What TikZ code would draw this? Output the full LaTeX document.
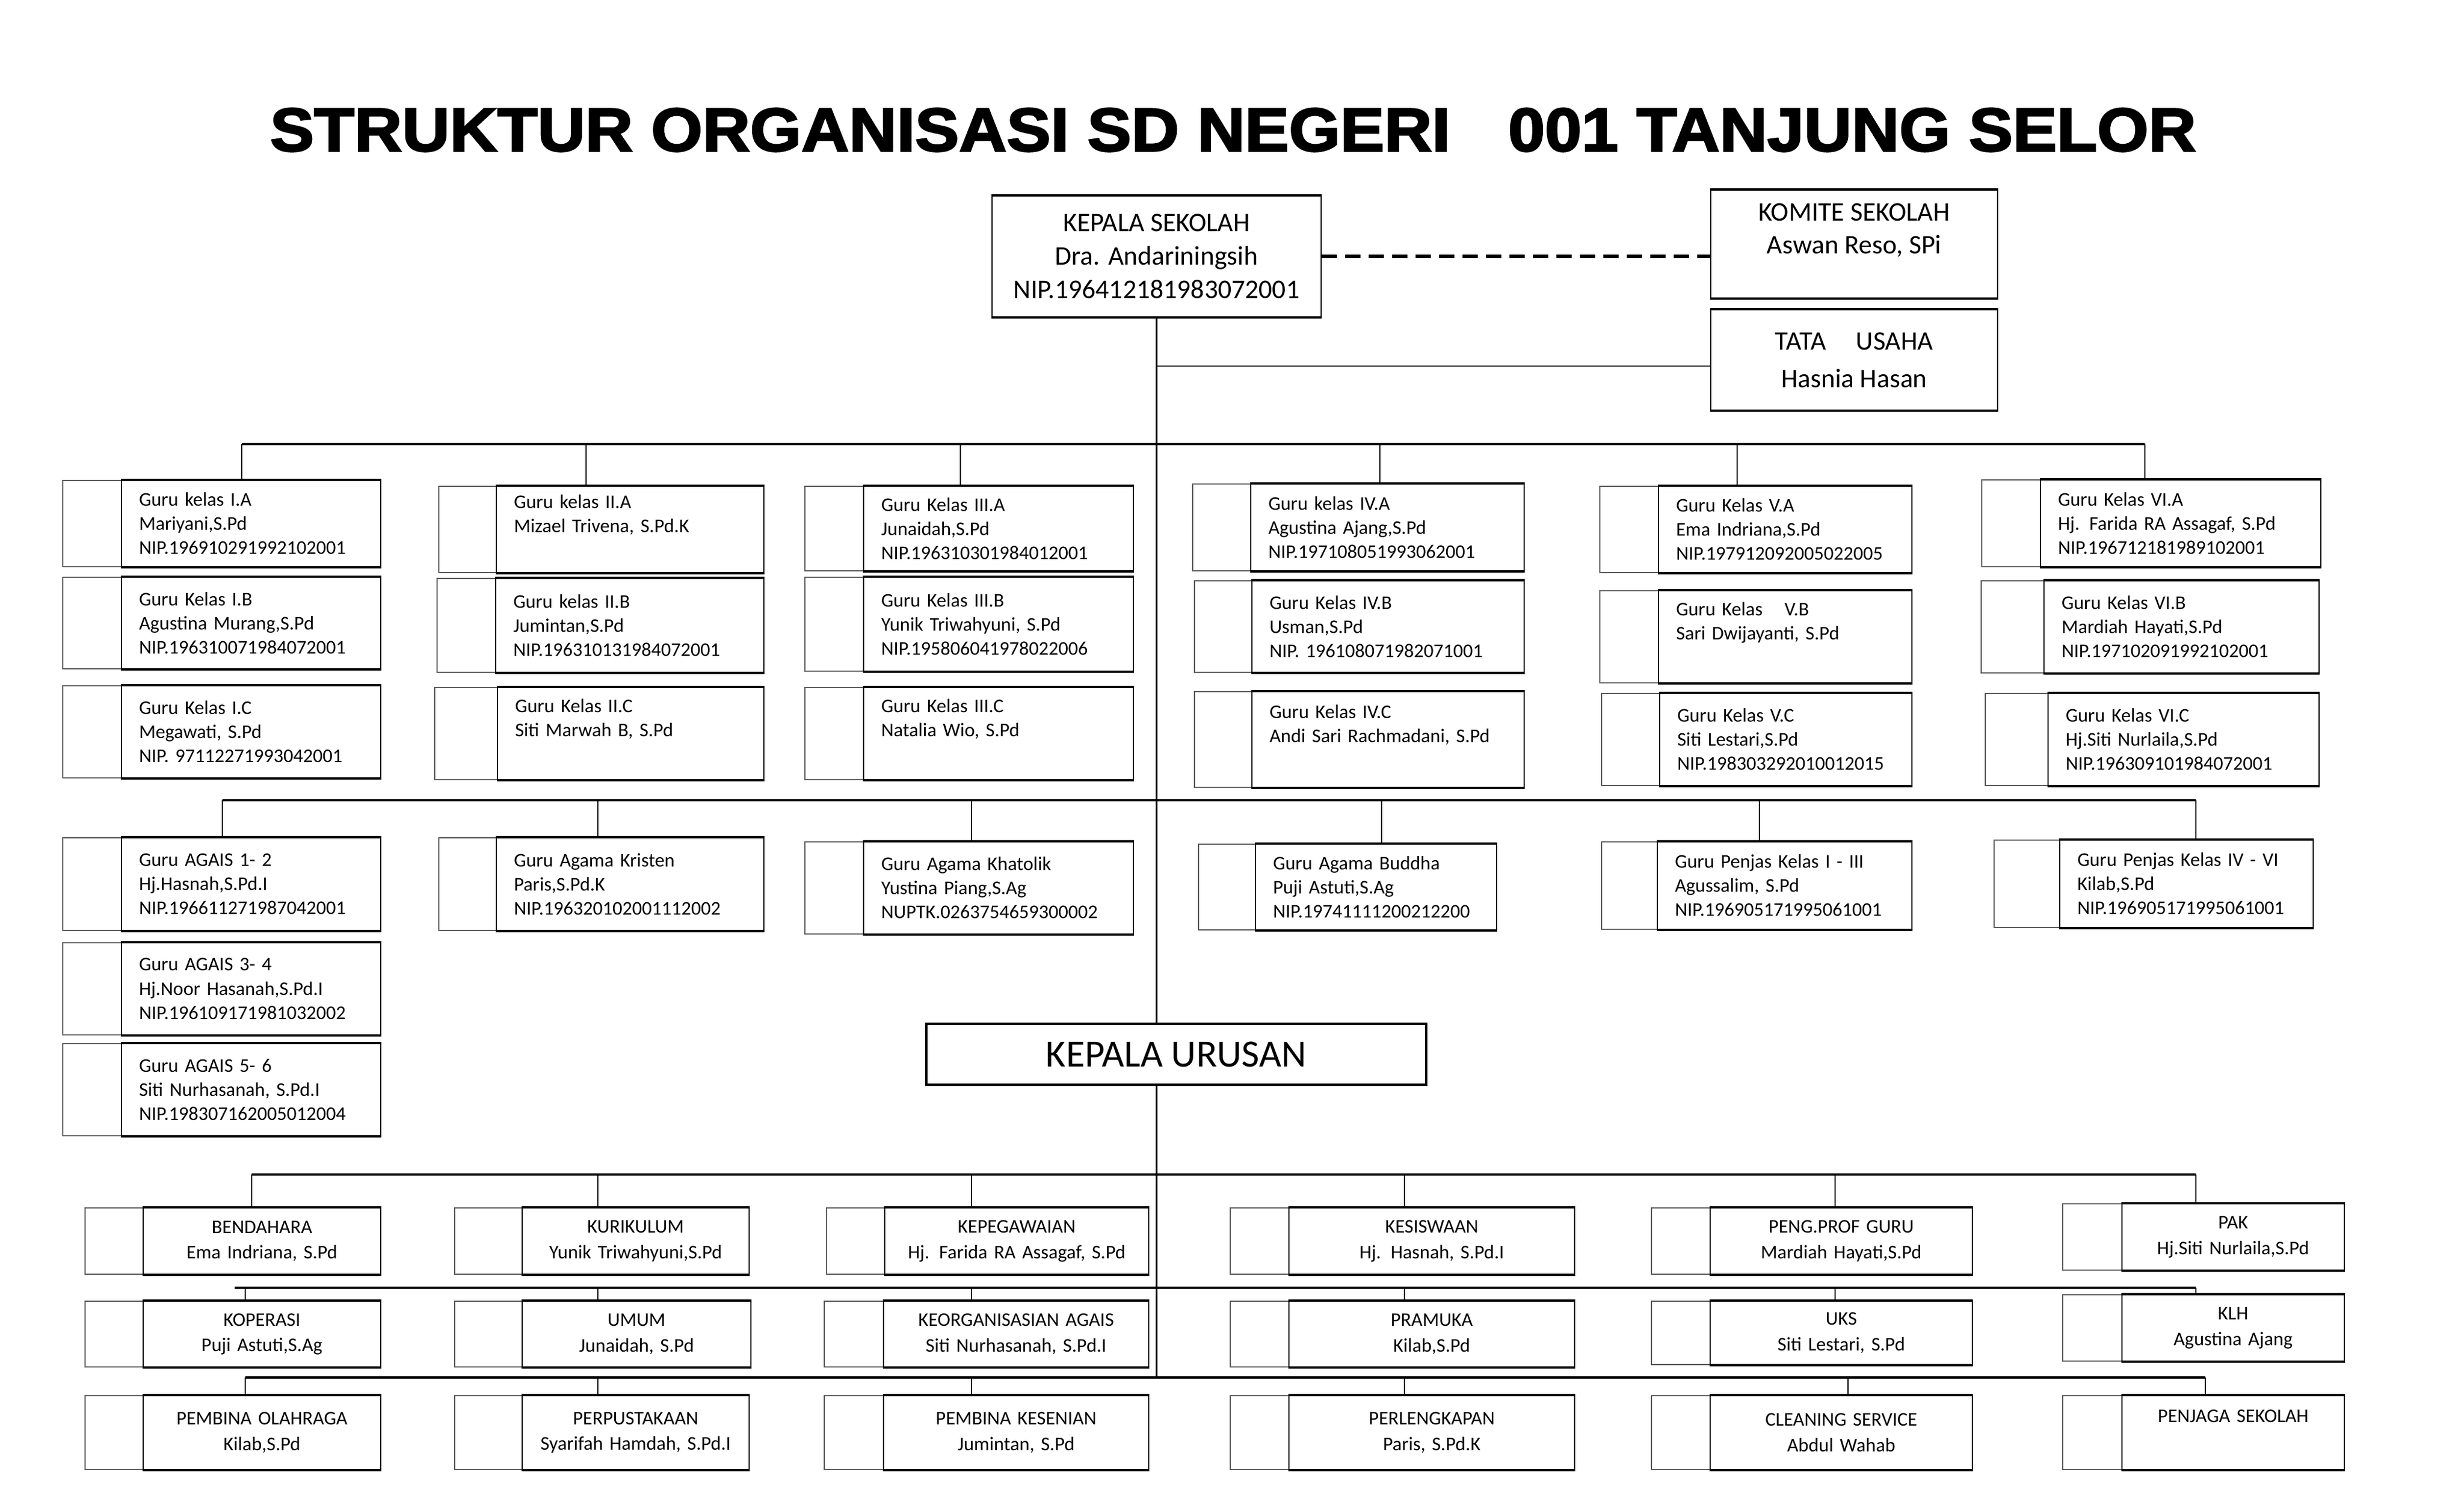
\documentclass[tikz,border=0pt]{standalone}
\usepackage{fontspec}
\setmainfont{Carlito}
\newfontfamily\judulfont{Liberation Sans}[BoldFeatures={FakeBold=2.5}]
\usepackage{graphicx}

\newcommand{\jabatan}[8]{%
  \pgfmathsetmacro\lebar{#5-#4}%
  \pgfmathsetmacro\lebarteks{#5-#4-0.6}%
  \pgfmathsetmacro\tinggi{(#6)-(#7)}%
  \pgfmathsetmacro\tengahx{(#4+#5)/2}%
  \pgfmathsetmacro\tengahy{((#6)+(#7))/2}%
  \draw[bayang] (#3,#6) rectangle (#5,#7);
  \node[#1, minimum width=\lebar cm, minimum height=\tinggi cm, text width=\lebarteks cm] (#2) at (\tengahx,\tengahy) {#8};
  \draw[tepi] (#2.north west) -- (#2.north east) (#2.south west) -- (#2.south east);
}

\begin{document}
\begin{tikzpicture}[kotak/.style={draw,line width=0.6pt,fill=white,inner xsep=0.3cm,inner ysep=0pt},
    guru/.style={kotak,align=left,font=\fontsize{9.4}{11.7}\selectfont},
    urusan/.style={kotak,align=center,font=\fontsize{9.4}{12.4}\selectfont},
    atas/.style={draw,line width=0.6pt,fill=white,align=center,font=\fontsize{13}{16.2}\selectfont},
    bayang/.style={draw=black!65,line width=0.5pt},
    tepi/.style={line width=1.2pt},
    tiang/.style={line width=0.7pt},
    bus/.style={line width=1.1pt},
    putus/.style={line width=1.5pt,dash pattern=on 0.26cm off 0.14cm}]
\useasboundingbox (0,0) rectangle (42,-25.5);

\node (judul) at (21.02,-2.215) {\resizebox{32.83cm}{0.73cm}{\judulfont\bfseries STRUKTUR ORGANISASI SD NEGERI\hspace{0.6em} 001 TANJUNG SELOR}};

\node[atas,minimum width=5.61cm,minimum height=2.06cm] (ks) at (19.715,-4.37) {KEPALA SEKOLAH\\Dra. Andariningsih\\NIP.196412181983072001};
\node[atas,minimum width=4.89cm,minimum height=1.84cm,font=\fontsize{13}{16}\selectfont] (kom) at (31.605,-4.16) {KOMITE SEKOLAH\\Aswan Reso, SPi\\[-6pt]\strut};
\node[atas,minimum width=4.89cm,minimum height=1.71cm,font=\fontsize{13}{18.2}\selectfont] (tu) at (31.605,-6.135) {TATA\hspace{0.9em} USAHA\\Hasnia Hasan};
\foreach \b in {ks,kom,tu}
    \draw[tepi] (\b.north west) -- (\b.north east) (\b.south west) -- (\b.south east);
\draw[putus] (ks.east) -- (ks.east -| kom.west);
\coordinate (ktu) at (19.715,-6.24);
\draw[tiang] (ktu) -- (ktu -| tu.west);

\jabatan{guru}{g1a}{1.07}{2.07}{6.49}{-8.19}{-9.66}{Guru kelas I.A\\Mariyani,S.Pd\\NIP.196910291992102001}
\jabatan{guru}{g1b}{1.07}{2.07}{6.49}{-9.84}{-11.40}{Guru Kelas I.B\\Agustina Murang,S.Pd\\NIP.196310071984072001}
\jabatan{guru}{g1c}{1.07}{2.07}{6.49}{-11.69}{-13.26}{Guru Kelas I.C\\Megawati, S.Pd\\NIP. 97112271993042001}
\jabatan{guru}{g2a}{7.48}{8.46}{13.02}{-8.29}{-9.76}{Guru kelas II.A\\Mizael Trivena, S.Pd.K\\\strut}
\jabatan{guru}{g2b}{7.45}{8.45}{13.02}{-9.86}{-11.46}{Guru kelas II.B\\Jumintan,S.Pd\\NIP.196310131984072001}
\jabatan{guru}{g2c}{7.41}{8.48}{13.02}{-11.72}{-13.29}{Guru Kelas II.C\\Siti Marwah B, S.Pd\\\strut}
\jabatan{guru}{g3a}{13.72}{14.72}{19.32}{-8.29}{-9.73}{Guru Kelas III.A\\Junaidah,S.Pd\\NIP.196310301984012001}
\jabatan{guru}{g3b}{13.72}{14.72}{19.32}{-9.84}{-11.44}{Guru Kelas III.B\\Yunik Triwahyuni, S.Pd\\NIP.195806041978022006}
\jabatan{guru}{g3c}{13.72}{14.72}{19.32}{-11.72}{-13.29}{Guru Kelas III.C\\Natalia Wio, S.Pd\\\strut}
\jabatan{guru}{g4a}{20.33}{21.32}{25.98}{-8.25}{-9.73}{Guru kelas IV.A\\Agustina Ajang,S.Pd\\NIP.197108051993062001}
\jabatan{guru}{g4b}{20.36}{21.34}{25.98}{-9.90}{-11.46}{Guru Kelas IV.B\\Usman,S.Pd\\NIP. 196108071982071001}
\jabatan{guru}{g4c}{20.36}{21.34}{25.98}{-11.79}{-13.42}{Guru Kelas IV.C\\Andi Sari Rachmadani, S.Pd\\\strut}
\jabatan{guru}{g5a}{27.27}{28.27}{32.59}{-8.29}{-9.76}{Guru Kelas V.A\\Ema Indriana,S.Pd\\NIP.197912092005022005}
\jabatan{guru}{g5b}{27.27}{28.27}{32.59}{-10.07}{-11.64}{Guru Kelas\hspace{0.8em} V.B\\Sari Dwijayanti, S.Pd\\\strut}
\jabatan{guru}{g5c}{27.30}{28.29}{32.59}{-11.82}{-13.39}{Guru Kelas V.C\\Siti Lestari,S.Pd\\NIP.198303292010012015}
\jabatan{guru}{g6a}{33.78}{34.78}{39.56}{-8.18}{-9.66}{Guru Kelas VI.A\\Hj. Farida RA Assagaf, S.Pd\\NIP.196712181989102001}
\jabatan{guru}{g6b}{33.77}{34.84}{39.53}{-9.90}{-11.47}{Guru Kelas VI.B\\Mardiah Hayati,S.Pd\\NIP.197102091992102001}
\jabatan{guru}{g6c}{33.84}{34.91}{39.53}{-11.82}{-13.39}{Guru Kelas VI.C\\Hj.Siti Nurlaila,S.Pd\\NIP.196309101984072001}

\jabatan{guru}{ag1}{1.07}{2.07}{6.49}{-14.28}{-15.86}{Guru AGAIS 1- 2\\Hj.Hasnah,S.Pd.I\\NIP.196611271987042001}
\jabatan{guru}{ag2}{1.07}{2.07}{6.49}{-16.07}{-17.64}{Guru AGAIS 3- 4\\Hj.Noor Hasanah,S.Pd.I\\NIP.196109171981032002}
\jabatan{guru}{ag3}{1.07}{2.07}{6.49}{-17.79}{-19.36}{Guru AGAIS 5- 6\\Siti Nurhasanah, S.Pd.I\\NIP.198307162005012004}
\jabatan{guru}{kris}{7.48}{8.46}{13.02}{-14.28}{-15.86}{Guru Agama Kristen\\Paris,S.Pd.K\\NIP.196320102001112002}
\jabatan{guru}{kat}{13.72}{14.72}{19.32}{-14.35}{-15.92}{Guru Agama Khatolik\\Yustina Piang,S.Ag\\NUPTK.0263754659300002}
\jabatan{guru}{bud}{20.43}{21.40}{25.51}{-14.39}{-15.85}{Guru Agama Buddha\\Puji Astuti,S.Ag\\NIP.19741111200212200}
\jabatan{guru}{pj1}{27.30}{28.25}{32.59}{-14.35}{-15.84}{Guru Penjas Kelas I - III\\Agussalim, S.Pd\\NIP.196905171995061001}
\jabatan{guru}{pj2}{33.99}{35.11}{39.43}{-14.32}{-15.81}{Guru Penjas Kelas IV - VI\\Kilab,S.Pd\\NIP.196905171995061001}

\node[draw,line width=0.9pt,fill=white,minimum width=8.52cm,minimum height=1.04cm,font=\fontsize{18.7}{22}\selectfont] (ku) at (20.05,-17.97) {KEPALA URUSAN};

\jabatan{urusan}{ben}{1.45}{2.44}{6.49}{-20.59}{-21.72}{BENDAHARA\\Ema Indriana, S.Pd}
\jabatan{urusan}{kur}{7.75}{8.90}{12.77}{-20.59}{-21.72}{KURIKULUM\\Yunik Triwahyuni,S.Pd}
\jabatan{urusan}{peg}{14.09}{15.08}{19.58}{-20.59}{-21.72}{KEPEGAWAIAN\\Hj. Farida RA Assagaf, S.Pd}
\jabatan{urusan}{sis}{20.97}{21.97}{26.84}{-20.59}{-21.72}{KESISWAAN\\Hj. Hasnah, S.Pd.I}
\jabatan{urusan}{pro}{28.15}{29.15}{33.62}{-20.59}{-21.72}{PENG.PROF GURU\\Mardiah Hayati,S.Pd}
\jabatan{urusan}{pak}{35.16}{36.17}{39.96}{-20.52}{-21.65}{PAK\\Hj.Siti Nurlaila,S.Pd}
\jabatan{urusan}{kop}{1.45}{2.44}{6.49}{-22.18}{-23.30}{KOPERASI\\Puji Astuti,S.Ag}
\jabatan{urusan}{umu}{7.75}{8.90}{12.80}{-22.18}{-23.30}{UMUM\\Junaidah, S.Pd}
\jabatan{urusan}{org}{14.05}{15.06}{19.58}{-22.18}{-23.30}{KEORGANISASIAN AGAIS\\Siti Nurhasanah, S.Pd.I}
\jabatan{urusan}{pra}{20.97}{21.97}{26.84}{-22.18}{-23.30}{PRAMUKA\\Kilab,S.Pd}
\jabatan{urusan}{uks}{28.15}{29.15}{33.62}{-22.18}{-23.26}{UKS\\Siti Lestari, S.Pd}
\jabatan{urusan}{klh}{35.16}{36.17}{39.96}{-22.07}{-23.20}{KLH\\Agustina Ajang}
\jabatan{urusan}{olr}{1.45}{2.44}{6.49}{-23.79}{-25.05}{PEMBINA OLAHRAGA\\Kilab,S.Pd}
\jabatan{urusan}{pus}{7.75}{8.90}{12.77}{-23.79}{-25.05}{PERPUSTAKAAN\\Syarifah Hamdah, S.Pd.I}
\jabatan{urusan}{ksn}{14.05}{15.06}{19.58}{-23.79}{-25.05}{PEMBINA KESENIAN\\Jumintan, S.Pd}
\jabatan{urusan}{lkp}{20.97}{21.97}{26.84}{-23.79}{-25.05}{PERLENGKAPAN\\Paris, S.Pd.K}
\jabatan{urusan}{cle}{28.15}{29.15}{33.62}{-23.79}{-25.05}{CLEANING SERVICE\\Abdul Wahab}
\jabatan{urusan}{jag}{35.16}{36.17}{39.96}{-23.79}{-25.05}{PENJAGA SEKOLAH\\\strut}

\draw[tiang] (ks.south) -- (ks.south |- ku.north);
\coordinate (ujung) at (19.715,-23.48);
\draw[tiang] (ks.south |- ku.south) -- (ujung);

\foreach \n/\x in {1/4.12,2/9.99,3/16.37,4/23.52,5/29.61,6/36.56}
    \coordinate (p\n) at (\x,-7.57);
\foreach \n/\x in {1/3.79,2/10.19,3/16.56,4/23.55,5/29.99,6/37.43}
    \coordinate (q\n) at (\x,-13.64);
\foreach \n/\x in {1/4.29,2/10.19,3/16.56,4/23.94,5/31.28,6/37.43}
    \coordinate (r\n) at (\x,-20.02);
\foreach \n/\x in {0/4.00,1/4.18,2/10.19,3/16.56,4/23.94,5/31.28,6/37.43}
    \coordinate (s\n) at (\x,-21.95);
\foreach \n/\x in {1/4.18,2/10.19,3/16.56,4/23.94,5/31.50,6/37.59}
    \coordinate (t\n) at (\x,-23.48);

\draw[bus] (p1) -- (p6);
\draw[bus] (q1) -- (q6);
\draw[bus] (r1) -- (r6);
\draw[bus] (s0) -- (s6);
\draw[bus] (t1) -- (t6);
\foreach \n/\b in {1/g1a,2/g2a,3/g3a,4/g4a,5/g5a,6/g6a}
    \draw[tiang] (p\n) -- (p\n |- \b.north);
\foreach \n/\b in {1/ag1,2/kris,3/kat,4/bud,5/pj1,6/pj2}
    \draw[tiang] (q\n) -- (q\n |- \b.north);
\foreach \n/\b in {1/ben,2/kur,3/peg,4/sis,5/pro,6/pak}
    \draw[tiang] (r\n) -- (r\n |- \b.north);
\foreach \n/\b in {1/kop,2/umu,3/org,4/pra,5/uks,6/klh}
    \draw[tiang] (s\n) -- (s\n |- \b.north);
\foreach \n/\b in {1/olr,2/pus,3/ksn,4/lkp,5/cle,6/jag}
    \draw[tiang] (t\n) -- (t\n |- \b.north);
\end{tikzpicture}
\end{document}
